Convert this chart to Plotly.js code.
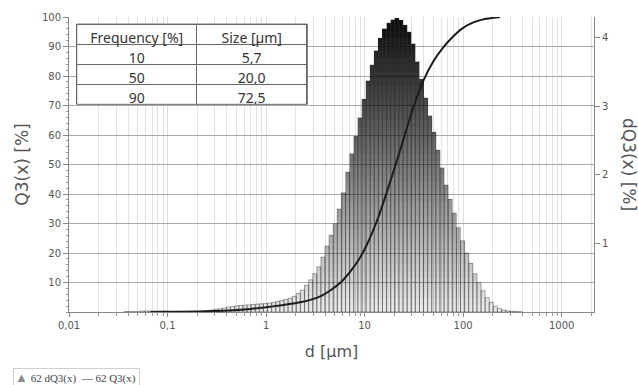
<!DOCTYPE html>
<html><head><meta charset="utf-8">
<script src="https://cdn.plot.ly/plotly-3.0.1.min.js"></script>
<style>html,body{margin:0;padding:0;background:#fff}#chart{width:638px;height:385px}</style>
</head><body><div id="chart"></div>
<script>
// Size class grid of the analyser (geometric classes)
const classesPerDecade = 24;
const firstClassCenterUm = 0.03778;

// dQ3 per size class [%] (right axis)
const dQ3 = [
  0.005,0.005,0.005,0.005,
  0.015,0.015,0.015,0.015,0.015,0.015,0.015,
  0.01,0.01,0.01,0.01,0.01,0.01,0.01,0.01,
  0.015,0.02,0.03,0.04,0.05,0.06,0.07,0.08,0.09,0.095,
  0.10,0.105,0.11,0.115,0.12,0.125,0.13,0.14,0.155,0.17,
  0.185,0.20,0.23,0.27,0.32,0.39,0.47,0.56,0.66,0.80,
  0.96,1.12,1.29,1.50,1.74,2.04,2.31,2.56,2.83,3.10,
  3.37,3.60,3.81,3.99,4.13,4.21,4.26,
  4.28,
  4.25,4.18,4.08,3.91,3.65,3.39,3.12,2.86,2.62,2.36,
  2.10,1.85,1.64,1.44,1.23,1.04,0.86,0.71,0.56,0.43,
  0.31,0.21,0.14,0.085,0.05,0.03,0.018,0.01,0.006,0.004
];

// Cumulative Q3 curve [%] (left axis)
const q3SizesUm = [0.067,0.15,0.292,0.465,0.692,1.0,1.51,2.22,2.81,3.55,4.48,5.7,7.15,8.75,10.5,13.8,17.5,20.0,23.0,31.3,39.6,49.9,63.1,79.6,100.7,127,160,203,237];
const q3Values  = [0,0.1,0.3,0.6,1.05,1.6,2.4,3.3,4.1,5.3,7.3,10,13.7,17.8,22.7,32.2,42.5,48.5,55,69.5,78.5,85,89.8,93.5,96.4,98.2,99.2,99.75,100];

// Table
const tableHeader = ['Frequency [%]', 'Size [µm]'];
const tableFrequency = ['10', '50', '90'];
const tableSize = ['5,7', '20,0', '72,5'];

// Axis ticks
const xTickValues = [0.01, 0.1, 1, 10, 100, 1000];
const xTickLabels = ['0,01', '0,1', '1', '10', '100', '1000'];
const leftTicks = [10,20,30,40,50,60,70,80,90,100];
const rightTicks = [1,2,3,4];

const xLogRange = [-2, 3.328];
const minorXVals = [];
for (let e = -2; e <= 3; e++) for (let m = 2; m <= 9; m++) minorXVals.push(m * Math.pow(10, e));

const classLogs = dQ3.map((_, k) => Math.log10(firstClassCenterUm) + k / classesPerDecade);

const traces = [];
const bandStep = 0.1;
for (let lo = 0; lo < 4.3; lo += bandStep) {
  const mid = lo + bandStep / 2;
  const alpha = Math.min(0.95, (20 + 53 * mid) / 255);
  traces.push({
    type: 'bar', x: classLogs,
    y: dQ3.map(v => Math.max(0, Math.min(v, lo + bandStep) - lo)),
    base: lo, xaxis: 'x', yaxis: 'y',
    marker: {color: 'rgba(0,0,0,' + alpha.toFixed(3) + ')', line: {width: 0}},
    showlegend: false, hoverinfo: 'skip'
  });
}
traces.push({
  type: 'bar', x: classLogs, y: dQ3, base: 0, xaxis: 'x', yaxis: 'y', name: '62 dQ3(x)',
  marker: {color: 'rgba(0,0,0,0)', line: {color: 'rgba(50,50,50,0.6)', width: 0.7}},
  showlegend: false, hoverinfo: 'skip'
});
traces.push({
  type: 'scatter', mode: 'lines', x: q3SizesUm, y: q3Values, xaxis: 'x2', yaxis: 'y2', name: '62 Q3(x)',
  line: {color: '#1c1c1c', width: 2, shape: 'spline', smoothing: 0.6},
  showlegend: false, hoverinfo: 'skip'
});
const tableDomX = [0.0147, 0.4539], tableDomY = [0.704, 0.976];
traces.push({
  type: 'table',
  domain: {x: tableDomX, y: tableDomY},
  columnwidth: [120, 110],
  header: {values: tableHeader, align: 'center', height: 20, fill: {color: '#fff'},
           line: {color: '#666', width: 1}, font: {family: 'Noto Sans', size: 14, color: '#333'}},
  cells: {values: [tableFrequency, tableSize], align: 'center', height: 20, fill: {color: '#fff'},
          line: {color: '#666', width: 1}, font: {family: 'Noto Sans', size: 14, color: '#333'}}
});

const tickFont = {family: 'DejaVu Sans', size: 10, color: '#555'};
const titleFont = {family: 'DejaVu Sans', size: 16, color: '#555'};

const layout = {
  width: 638, height: 385,
  margin: {l: 69, r: 44, t: 17, b: 73},
  paper_bgcolor: '#fff', plot_bgcolor: '#fff',
  barmode: 'overlay', bargap: 0,
  hovermode: false,
  showlegend: false,
  xaxis: {type: 'linear', range: xLogRange, visible: false, fixedrange: true},
  yaxis: {range: [0, 4.3], side: 'right', anchor: 'x', showgrid: false, zeroline: false,
          showline: true, linecolor: '#888', linewidth: 1,
          tickmode: 'array', tickvals: rightTicks, ticks: 'outside', ticklen: 5, tickcolor: '#888',
          tickfont: tickFont, fixedrange: true},
  xaxis2: {type: 'log', overlaying: 'x', anchor: 'y2', side: 'bottom', range: xLogRange,
           tickmode: 'array', tickvals: xTickValues, ticktext: xTickLabels,
           ticks: 'outside', ticklen: 4, tickcolor: '#888', tickfont: tickFont,
           showgrid: true, gridcolor: '#dedede', gridwidth: 1,
           minor: {tickmode: 'array', tickvals: minorXVals, ticks: 'outside', ticklen: 3, tickcolor: '#999',
                   showgrid: true, gridcolor: '#e2e2e2', gridwidth: 1},
           showline: true, linecolor: '#888', linewidth: 1, zeroline: false,
           title: {text: 'd [µm]', font: titleFont, standoff: 15}, fixedrange: true},
  yaxis2: {overlaying: 'y', anchor: 'x2', side: 'left', range: [0, 100],
           tickmode: 'array', tickvals: leftTicks, ticks: 'outside', ticklen: 5, tickcolor: '#888',
           tickfont: tickFont,
           minor: {dtick: 2, ticks: 'outside', ticklen: 2, tickcolor: '#999', showgrid: false},
           showgrid: true, gridcolor: '#a8a8a8', gridwidth: 1, zeroline: false,
           showline: true, linecolor: '#888', linewidth: 1,
           title: {text: 'Q3(x) [%]', font: {family: 'DejaVu Sans', size: 17, color: '#555'}, standoff: 8},
           fixedrange: true},
  shapes: [
    {type: 'rect', xref: 'paper', yref: 'paper', x0: tableDomX[0], x1: tableDomX[1], y0: tableDomY[0], y1: tableDomY[1],
     line: {color: '#666', width: 1}, fillcolor: 'rgba(0,0,0,0)', layer: 'above'}
  ],
  annotations: [
    {xref: 'paper', yref: 'paper', x: 1.0667, y: 0.5017, xanchor: 'center', yanchor: 'middle',
     text: 'dQ3(x) [%]', textangle: 90, showarrow: false,
     font: {family: 'DejaVu Sans', size: 17, color: '#555'}},
    {xref: 'paper', yref: 'paper', x: -0.1067, y: -0.2237, xanchor: 'left', yanchor: 'middle',
     text: '<span style="color:#8a8a8a;font-size:13px">▲</span> 62 dQ3(x)  <span style="color:#333">—</span> 62 Q3(x) ',
     showarrow: false, bordercolor: '#cfcfcf', borderwidth: 1, borderpad: 1, bgcolor: '#fff',
     font: {family: 'Liberation Serif', size: 11, color: '#444'}}
  ]
};

Plotly.newPlot('chart', traces, layout, {staticPlot: true, displayModeBar: false});
</script>
</body></html>
